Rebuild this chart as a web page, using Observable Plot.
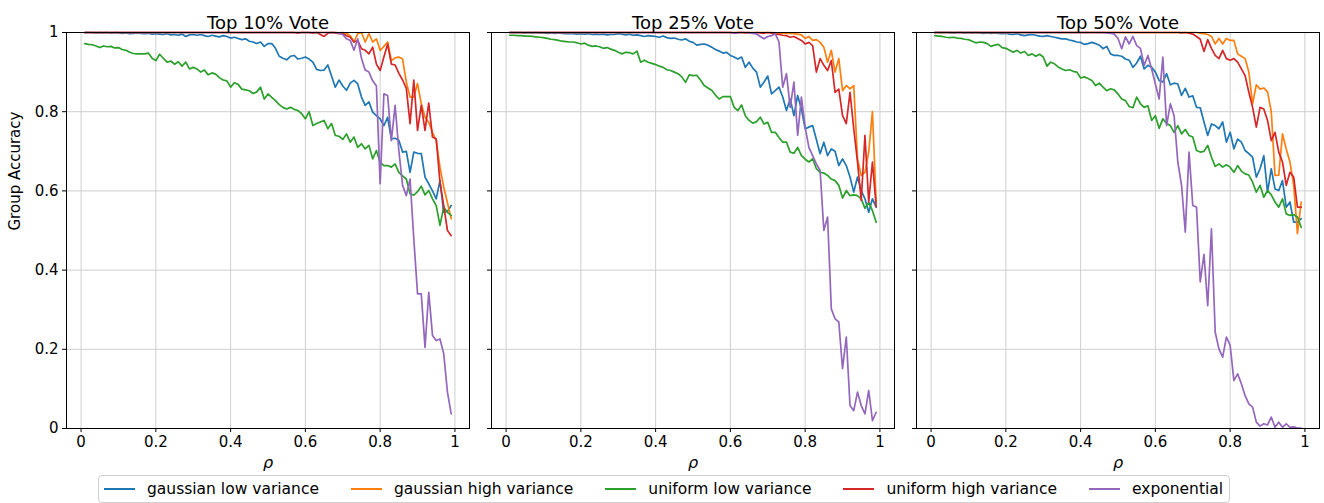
<!DOCTYPE html>
<html><head><meta charset="utf-8">
<script src="https://cdn.jsdelivr.net/npm/d3@7"></script>
<script src="https://cdn.jsdelivr.net/npm/@observablehq/plot@0.6"></script>
<style>
body{margin:0;background:#fff;font-family:"DejaVu Sans",sans-serif;}
#wrap{position:relative;width:1324px;height:503px;overflow:hidden;background:#fff;}
.panel{position:absolute;top:0;}
#legend{position:absolute;left:98px;top:475px;width:1132px;height:28px;border:1px solid #d0d0d0;border-radius:4px;box-sizing:border-box;display:flex;align-items:center;padding-left:5px;font-size:15.5px;color:#000;}
.item{display:flex;align-items:center;margin-right:32px;white-space:nowrap;}
.swatch{width:31px;height:2px;margin-right:12px;}
</style></head><body><div id="wrap"></div>
<script>
const rho = [0.01,0.02,0.03,0.04,0.05,0.06,0.07,0.08,0.09,0.10,
0.11,0.12,0.13,0.14,0.15,0.16,0.17,0.18,0.19,0.20,
0.21,0.22,0.23,0.24,0.25,0.26,0.27,0.28,0.29,0.30,
0.31,0.32,0.33,0.34,0.35,0.36,0.37,0.38,0.39,0.40,
0.41,0.42,0.43,0.44,0.45,0.46,0.47,0.48,0.49,0.50,
0.51,0.52,0.53,0.54,0.55,0.56,0.57,0.58,0.59,0.60,
0.61,0.62,0.63,0.64,0.65,0.66,0.67,0.68,0.69,0.70,
0.71,0.72,0.73,0.74,0.75,0.76,0.77,0.78,0.79,0.80,
0.81,0.82,0.83,0.84,0.85,0.86,0.87,0.88,0.89,0.90,
0.91,0.92,0.93,0.94,0.95,0.96,0.97,0.98,0.99];

const seriesNames = ["gaussian low variance","gaussian high variance","uniform low variance","uniform high variance","exponential"];
const seriesColors = ["#1f77b4","#ff7f0e","#2ca02c","#d62728","#9467bd"];
const panelTitles = ["Top 10% Vote","Top 25% Vote","Top 50% Vote"];
const xTicks = [0,0.2,0.4,0.6,0.8,1];
const xTickLabels = ["0","0.2","0.4","0.6","0.8","1"];
const yTicks = [0,0.2,0.4,0.6,0.8,1];
const yTickLabels = ["0","0.2","0.4","0.6","0.8","1"];
const xLabel = "ρ";
const yLabel = "Group Accuracy";

// ---- Top 10% Vote ----
const top10_gaussLow = [
1,1,1,0.999,1,0.999,1,0.998,1,0.999,
0.998,0.999,0.997,0.998,0.999,0.998,0.997,0.998,0.996,0.997,
0.996,0.995,0.997,0.994,0.995,0.993,0.996,0.990,0.994,0.995,
0.993,0.995,0.992,0.990,0.993,0.991,0.989,0.992,0.990,0.986,
0.988,0.985,0.982,0.984,0.978,0.976,0.972,0.976,0.965,0.972,
0.972,0.960,0.940,0.935,0.931,0.940,0.942,0.933,0.935,0.938,
0.933,0.925,0.907,0.904,0.905,0.918,0.890,0.862,0.880,0.865,
0.854,0.872,0.879,0.870,0.837,0.816,0.825,0.799,0.790,0.782,
0.765,0.786,0.731,0.733,0.728,0.698,0.700,0.647,0.698,0.695,
0.694,0.635,0.618,0.600,0.580,0.626,0.546,0.548,0.563];
const top10_gaussHigh = [
1,1,1,1,1,1,1,1,1,1,
1,1,1,1,1,1,1,1,1,1,
1,1,1,1,1,1,1,1,1,1,
1,1,1,1,1,1,1,1,1,1,
1,1,1,1,1,1,1,1,1,1,
1,1,1,1,1,1,1,1,1,1,
1,1,1,1,1,1,1,1,0.999,1,
0.998,0.992,0.976,0.997,1,0.976,0.997,0.976,0.984,0.955,
0.965,0.976,0.929,0.936,0.938,0.933,0.875,0.837,0.837,0.871,
0.820,0.786,0.773,0.748,0.727,0.660,0.610,0.570,0.530];
const top10_unifLow = [
0.972,0.970,0.969,0.966,0.962,0.966,0.964,0.965,0.961,0.962,
0.957,0.955,0.950,0.947,0.946,0.946,0.946,0.948,0.935,0.929,
0.945,0.935,0.925,0.928,0.920,0.926,0.915,0.925,0.908,0.912,
0.908,0.900,0.905,0.893,0.898,0.895,0.886,0.880,0.878,0.862,
0.873,0.869,0.857,0.855,0.853,0.846,0.850,0.862,0.832,0.845,
0.836,0.828,0.818,0.811,0.807,0.811,0.806,0.803,0.795,0.782,
0.800,0.765,0.770,0.774,0.778,0.757,0.770,0.740,0.738,0.730,
0.744,0.723,0.736,0.710,0.719,0.706,0.715,0.681,0.702,0.672,
0.664,0.664,0.660,0.668,0.647,0.638,0.630,0.593,0.589,0.598,
0.612,0.590,0.601,0.580,0.563,0.513,0.559,0.546,0.538];
const top10_unifHigh = [
1,1,1,1,1,1,1,1,1,1,
1,1,1,1,1,1,1,1,1,1,
1,1,1,1,1,1,1,1,1,1,
1,1,1,1,1,1,1,1,1,1,
1,1,1,1,1,1,1,1,1,1,
1,1,1,1,1,1,1,0.998,1,1,
1,0.998,1,0.995,0.990,0.998,1,0.999,0.997,0.998,
0.992,0.988,0.976,0.980,0.959,0.955,0.946,0.963,0.920,0.904,
0.938,0.971,0.920,0.918,0.897,0.880,0.859,0.770,0.880,0.753,
0.816,0.753,0.822,0.736,0.731,0.622,0.563,0.500,0.487];
const top10_expo = [
1,1,1,1,1,1,1,1,1,1,
1,1,1,1,1,1,1,1,1,1,
1,1,1,1,1,1,1,1,1,1,
1,1,1,1,1,1,1,1,1,1,
1,1,1,1,1,1,1,1,1,1,
1,1,1,1,1,1,1,1,1,1,
1,1,1,1,1,1,1,1,0.998,0.995,
0.984,0.980,0.955,0.984,0.935,0.905,0.900,0.878,0.865,0.618,
0.845,0.841,0.727,0.816,0.702,0.614,0.588,0.630,0.479,0.340,
0.340,0.205,0.344,0.235,0.222,0.226,0.189,0.092,0.037];

// ---- Top 25% Vote ----
const top25_gaussLow = [
1,1,1,1,0.999,1,0.999,1,0.999,0.999,
0.998,0.999,0.998,0.999,0.998,0.997,0.998,0.997,0.996,0.997,
0.996,0.997,0.995,0.996,0.995,0.996,0.994,0.995,0.995,0.997,
0.996,0.994,0.996,0.993,0.994,0.992,0.990,0.992,0.991,0.990,
0.988,0.991,0.987,0.985,0.986,0.983,0.981,0.984,0.978,0.975,
0.968,0.970,0.971,0.968,0.963,0.957,0.953,0.948,0.950,0.942,
0.938,0.933,0.938,0.912,0.925,0.910,0.900,0.862,0.875,0.890,
0.845,0.853,0.862,0.837,0.803,0.832,0.790,0.841,0.807,0.757,
0.761,0.765,0.730,0.694,0.723,0.689,0.706,0.700,0.664,0.681,
0.664,0.635,0.597,0.635,0.601,0.580,0.546,0.580,0.559];
const top25_gaussHigh = [
1,1,1,1,1,1,1,1,1,1,
1,1,1,1,1,1,1,1,1,1,
1,1,1,1,1,1,1,1,1,1,
1,1,1,1,1,1,1,1,1,1,
1,1,1,1,1,1,1,1,1,1,
1,1,1,1,1,1,1,1,1,1,
1,1,1,1,1,1,1,1,1,1,
1,0.999,0.998,0.999,0.998,0.998,0.997,0.996,0.994,0.985,
0.990,0.980,0.982,0.975,0.963,0.925,0.955,0.900,0.934,0.853,
0.866,0.858,0.866,0.681,0.639,0.647,0.698,0.800,0.572];
const top25_unifLow = [
0.993,0.993,0.992,0.992,0.991,0.991,0.990,0.989,0.988,0.987,
0.985,0.983,0.982,0.980,0.978,0.977,0.976,0.976,0.974,0.971,
0.973,0.968,0.965,0.966,0.964,0.960,0.962,0.958,0.955,0.950,
0.946,0.950,0.949,0.946,0.953,0.925,0.930,0.925,0.922,0.919,
0.915,0.912,0.906,0.904,0.900,0.896,0.888,0.874,0.893,0.891,
0.892,0.880,0.866,0.860,0.854,0.842,0.832,0.838,0.838,0.838,
0.811,0.803,0.817,0.790,0.778,0.771,0.775,0.786,0.769,0.773,
0.748,0.748,0.735,0.723,0.723,0.698,0.695,0.710,0.689,0.680,
0.673,0.681,0.656,0.647,0.645,0.639,0.630,0.626,0.614,0.582,
0.601,0.588,0.590,0.588,0.580,0.556,0.571,0.550,0.521];
const top25_unifHigh = [
1,1,1,1,1,1,1,1,1,1,
1,1,1,1,1,1,1,1,1,1,
1,1,1,1,1,1,1,1,1,1,
1,1,1,1,1,1,1,1,1,1,
1,1,1,1,1,1,1,1,1,1,
1,1,1,1,1,1,1,1,1,1,
0.999,1,1,0.999,1,0.998,1,0.999,0.998,1,
0.998,0.996,0.995,0.993,0.992,0.988,0.990,0.985,0.980,0.971,
0.975,0.967,0.900,0.934,0.917,0.904,0.929,0.849,0.857,0.790,
0.770,0.849,0.757,0.673,0.576,0.740,0.572,0.673,0.560];
const top25_expo = [
1,1,1,1,1,1,1,1,1,1,
1,1,1,1,1,1,1,1,1,1,
1,1,1,1,1,1,1,1,1,1,
1,1,1,1,1,1,1,1,1,1,
1,1,1,1,1,1,1,1,1,1,
1,1,1,1,1,1,1,1,1,1,
0.998,0.999,1,1,0.999,0.998,0.996,0.990,0.984,0.990,
0.992,0.997,0.976,0.862,0.896,0.811,0.875,0.740,0.837,0.761,
0.710,0.689,0.668,0.652,0.500,0.534,0.302,0.277,0.269,0.151,
0.231,0.058,0.045,0.092,0.058,0.037,0.096,0.020,0.041];

// ---- Top 50% Vote ----
const top50_gaussLow = [
1,1,1,1,1,0.999,1,1,0.999,1,
0.999,1,0.999,0.998,0.999,0.998,0.999,0.998,0.997,0.998,
0.996,0.995,0.997,0.994,0.992,0.994,0.995,0.993,0.991,0.990,
0.992,0.990,0.988,0.986,0.984,0.984,0.981,0.979,0.976,0.975,
0.970,0.972,0.975,0.972,0.968,0.959,0.965,0.946,0.942,0.942,
0.940,0.933,0.930,0.912,0.923,0.940,0.908,0.917,0.912,0.900,
0.879,0.875,0.896,0.868,0.872,0.870,0.841,0.859,0.837,0.840,
0.811,0.810,0.774,0.740,0.769,0.765,0.757,0.774,0.723,0.748,
0.706,0.731,0.723,0.702,0.694,0.685,0.635,0.656,0.689,0.597,
0.656,0.605,0.601,0.626,0.559,0.572,0.521,0.521,0.530];
const top50_gaussHigh = [
1,1,1,1,1,1,1,1,1,1,
1,1,1,1,1,1,1,1,1,1,
1,1,1,1,1,1,1,1,1,1,
1,1,1,1,1,1,1,1,1,1,
1,1,1,1,1,1,1,1,1,1,
1,1,1,1,1,1,1,1,1,1,
1,1,1,1,1,1,1,1,1,1,
1,0.998,0.997,0.995,0.990,0.971,0.985,0.971,0.985,0.980,
0.980,0.946,0.940,0.934,0.900,0.820,0.868,0.857,0.860,0.850,
0.800,0.639,0.640,0.744,0.706,0.673,0.614,0.492,0.572];
const top50_unifLow = [
0.992,0.991,0.990,0.988,0.987,0.988,0.986,0.985,0.983,0.982,
0.978,0.974,0.976,0.975,0.972,0.965,0.968,0.970,0.962,0.960,
0.955,0.950,0.955,0.948,0.952,0.942,0.946,0.940,0.945,0.938,
0.915,0.925,0.921,0.913,0.908,0.904,0.906,0.902,0.900,0.885,
0.888,0.884,0.879,0.866,0.872,0.862,0.853,0.858,0.855,0.845,
0.832,0.828,0.813,0.810,0.837,0.820,0.811,0.815,0.778,0.790,
0.758,0.782,0.770,0.765,0.748,0.765,0.744,0.755,0.740,0.736,
0.702,0.698,0.700,0.715,0.685,0.662,0.668,0.660,0.666,0.660,
0.647,0.664,0.650,0.643,0.640,0.622,0.597,0.614,0.584,0.601,
0.590,0.572,0.559,0.580,0.542,0.538,0.540,0.534,0.508];
const top50_unifHigh = [
1,1,1,1,1,1,1,1,1,1,
1,1,1,1,1,1,1,1,1,1,
1,1,1,1,1,1,1,1,1,1,
1,1,1,1,1,1,1,1,1,1,
1,1,1,1,1,1,1,1,1,1,
1,1,1,1,1,1,1,1,1,1,
1,1,1,1,1,1,0.999,1,0.998,0.996,
0.990,0.983,0.952,0.982,0.960,0.942,0.934,0.955,0.934,0.930,
0.934,0.925,0.908,0.891,0.849,0.811,0.761,0.811,0.807,0.778,
0.727,0.748,0.698,0.673,0.614,0.647,0.635,0.559,0.559];
const top50_expo = [
1,1,1,1,1,1,1,1,1,1,
1,1,1,1,1,1,1,1,1,1,
1,1,1,1,1,1,1,1,1,1,
1,1,1,1,1,1,1,1,1,1,
1,1,1,1,1,1,0.999,0.998,0.996,0.985,
0.959,0.989,0.971,0.990,0.967,0.960,0.917,0.942,0.908,0.870,
0.832,0.938,0.765,0.820,0.790,0.673,0.614,0.496,0.698,0.563,
0.559,0.370,0.440,0.310,0.504,0.243,0.201,0.180,0.231,0.210,
0.121,0.138,0.113,0.083,0.062,0.054,0.016,0.006,0.012,0.009,
0.029,0.003,0.016,0.003,0.012,0.003,0.004,0.001,0.001];

const panelSeries = [
  [top10_gaussLow, top10_gaussHigh, top10_unifLow, top10_unifHigh, top10_expo],
  [top25_gaussLow, top25_gaussHigh, top25_unifLow, top25_unifHigh, top25_expo],
  [top50_gaussLow, top50_gaussHigh, top50_unifLow, top50_unifHigh, top50_expo]
];

const wrap = document.getElementById("wrap");
const frameW = 403, frameLefts = [66, 491, 916];

panelSeries.forEach((arrays, p) => {
  const rows = [];
  seriesNames.forEach((name, s) => arrays[s].forEach((v, i) => rows.push({rho: rho[i], acc: v, series: name})));
  const first = p === 0;
  const mL = first ? 66 : 10, mR = 4;
  const chart = Plot.plot({
    width: mL + frameW + mR, height: 480,
    marginLeft: mL, marginRight: mR, marginTop: 32, marginBottom: 52,
    style: {fontFamily: "DejaVu Sans", fontSize: "15px", color: "black", background: "transparent", overflow: "visible"},
    x: {domain: [-0.039, 1.039]},
    y: {domain: [0, 1]},
    color: {domain: seriesNames, range: seriesColors},
    marks: [
      Plot.gridX(xTicks, {stroke: "#cfcfcf", strokeOpacity: 1, strokeWidth: 1}),
      Plot.gridY(yTicks, {stroke: "#cfcfcf", strokeOpacity: 1, strokeWidth: 1}),
      Plot.axisX(xTicks, {tickFormat: d => xTickLabels[xTicks.indexOf(d)], tickSize: 4, tickPadding: 4, label: null}),
      Plot.axisY(yTicks, {tickFormat: first ? (d => yTickLabels[yTicks.indexOf(d)]) : (() => ""), tickSize: 4, tickPadding: 4, label: null}),
      Plot.line(rows, {x: "rho", y: "acc", stroke: "series", z: "series", strokeWidth: 1.7}),
      Plot.frame({stroke: "black", strokeWidth: 1}),
      Plot.text([panelTitles[p]], {frameAnchor: "top", dy: -16, fontSize: 18}),
      Plot.text([xLabel], {frameAnchor: "bottom", dy: 39, fontStyle: "italic", fontSize: 16}),
      first ? Plot.text([yLabel], {frameAnchor: "left", dx: -51, rotate: -90, fontSize: 15}) : null
    ]
  });
  chart.classList.add("panel");
  chart.style.left = (frameLefts[p] - mL) + "px";
  wrap.appendChild(chart);
});

const legend = document.createElement("div");
legend.id = "legend";
seriesNames.forEach((name, s) => {
  const item = document.createElement("div");
  item.className = "item";
  const sw = document.createElement("div");
  sw.className = "swatch";
  sw.style.background = seriesColors[s];
  const label = document.createElement("span");
  label.textContent = name;
  item.appendChild(sw); item.appendChild(label);
  legend.appendChild(item);
});
wrap.appendChild(legend);
</script></body></html>
